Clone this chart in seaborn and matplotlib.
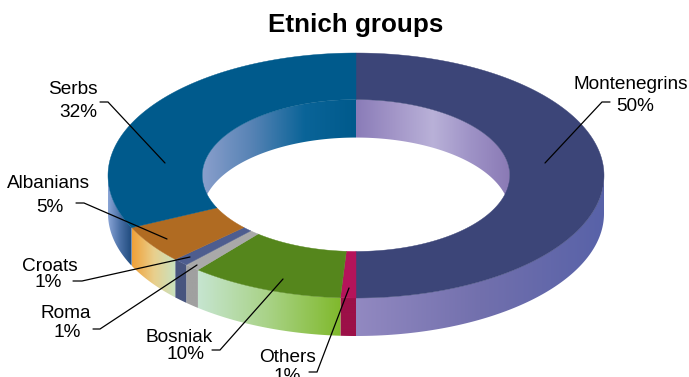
import numpy as np
import matplotlib
matplotlib.use("Agg")
import matplotlib.pyplot as plt
from matplotlib.patches import Polygon
import seaborn as sns

# Data
groups = ["Montenegrins", "Others", "Bosniak", "Roma", "Croats", "Albanians", "Serbs"]
shares = [50, 1, 10, 1, 1, 5, 32]
title = "Etnich groups"

sns.set_theme(style="white")
plt.rcParams["font.family"] = ["Liberation Sans", "DejaVu Sans"]

# Colours: top face, outer wall gradient stops, inner wall gradient stops
top_colors = {
    "Montenegrins": "#3c4578", "Others": "#b5145a", "Bosniak": "#55861c",
    "Roma": "#a9a9a9", "Croats": "#4e5d8f", "Albanians": "#b06b22", "Serbs": "#005a8c",
}
side_colors = {
    "Montenegrins": ["#9289c1", "#7270ad", "#5862a8"],
    "Others": ["#9c1048", "#9c1048"],
    "Bosniak": ["#c6e5d0", "#a8d285", "#80b92c"],
    "Roma": ["#a0a0a0", "#a0a0a0"],
    "Croats": ["#48557f", "#48557f"],
    "Albanians": ["#f0a038", "#e9cf8c", "#c8e2c0"],
    "Serbs": ["#8aa5d6", "#4a70a6", "#1e4a7c"],
}
inner_colors = {
    "Montenegrins": ["#8a7cb8", "#a396c8", "#b9b1d8", "#9e92c6", "#8a7ab5"],
    "Serbs": ["#8a9fcc", "#5582b4", "#0a6498", "#005a8c"],
}

W, H = 689, 377
fig = plt.figure(figsize=(W / 100, H / 100), dpi=100)
ax = fig.add_axes([0, 0, 1, 1])

# Ring geometry in pixel space
CX, CY = 356, 175.5
RX, RY = 248, 122.5
HOLE = 0.62
DEPTH = 38


def ell(t, r, dy=0.0):
    tr = np.radians(t)
    return CX + r * RX * np.cos(tr), CY - r * RY * np.sin(tr) + dy


def clip_range(lo, hi, a, b):
    out = []
    for shift in (-360, 0, 360):
        l, h = max(lo + shift, a), min(hi + shift, b)
        if h > l:
            out.append((l, h))
    return out


def grad_fill(xs, ys, stops, z):
    poly = Polygon(np.column_stack([xs, ys]), closed=True,
                   facecolor="none", edgecolor="none", zorder=z)
    ax.add_patch(poly)
    cmap = sns.blend_palette(stops, as_cmap=True)
    grad = np.linspace(0, 1, 256).reshape(1, -1)
    im = ax.imshow(grad, cmap=cmap, extent=(xs.min(), xs.max(), ys.max(), ys.min()),
                   aspect="auto", interpolation="bilinear", zorder=z)
    im.set_clip_path(poly)


def wall(t0, t1, r):
    t = np.linspace(t0, t1, 120)
    x1, y1 = ell(t, r)
    x2, y2 = ell(t[::-1], r, DEPTH)
    return np.concatenate([x1, x2]), np.concatenate([y1, y2])


# Slice angles, clockwise from 12 o'clock
fracs = np.array(shares, dtype=float) / sum(shares)
starts = 90 - 360 * np.concatenate([[0], np.cumsum(fracs)[:-1]])
ends = starts - 360 * fracs

# Far inner wall seen through the hole
for g, s, e in zip(groups, starts, ends):
    for lo, hi in clip_range(e, s, 0, 180):
        xs, ys = wall(lo, hi, HOLE)
        grad_fill(xs, ys, inner_colors.get(g, [top_colors[g]] * 2), 1)

# Near outer wall
for g, s, e in zip(groups, starts, ends):
    for lo, hi in clip_range(e, s, -180, 0):
        xs, ys = wall(lo, hi, 1.0)
        grad_fill(xs, ys, side_colors[g], 2)

# Top face
for g, s, e in zip(groups, starts, ends):
    t = np.linspace(s, e, 200)
    xo, yo = ell(t, 1.0)
    xi, yi = ell(t[::-1], HOLE)
    ax.add_patch(Polygon(np.column_stack([np.concatenate([xo, xi]), np.concatenate([yo, yi])]),
                         closed=True, facecolor=top_colors[g], edgecolor=top_colors[g],
                         linewidth=0.3, zorder=3))

# Labels: (name centre x, name baseline), (percent centre x, percent baseline)
label_pos = {
    "Montenegrins": ((631, 89), (635, 111)),
    "Serbs": ((73, 94), (78, 117)),
    "Albanians": ((48.5, 188), (50, 212)),
    "Croats": ((49.5, 271), (48.5, 287)),
    "Roma": ((66, 318), (67, 337)),
    "Bosniak": ((179.5, 342), (185, 359)),
    "Others": ((287.5, 362), (287.5, 381)),
}
leaders = {
    "Montenegrins": [(610, 102), (602, 102), (545, 163)],
    "Serbs": [(100, 102), (108, 102), (165, 163)],
    "Albanians": [(76, 203), (84, 203), (167, 239)],
    "Croats": [(73, 281), (82, 281), (190, 257)],
    "Roma": [(93, 329), (100, 329), (197, 265)],
    "Bosniak": [(212, 350), (220, 350), (283, 279)],
    "Others": [(309, 372), (317, 372), (349, 288)],
}
for g, v in zip(groups, shares):
    (nx, ny), (px, py) = label_pos[g]
    ax.text(nx, ny, g, ha="center", va="baseline", fontsize=13.7, color="black", zorder=5)
    ax.text(px, py, f"{v}%", ha="center", va="baseline", fontsize=13.7, color="black", zorder=5)
    pts = np.array(leaders[g])
    ax.plot(pts[:, 0], pts[:, 1], color="black", linewidth=0.9, zorder=4,
            solid_joinstyle="miter")

ax.text(356, 32, title, ha="center", va="baseline", fontsize=18.7,
        fontweight="bold", color="black", zorder=5)

ax.set_xlim(0, W)
ax.set_ylim(H, 0)
ax.axis("off")
fig.savefig("out.png", dpi=100, facecolor="white")
